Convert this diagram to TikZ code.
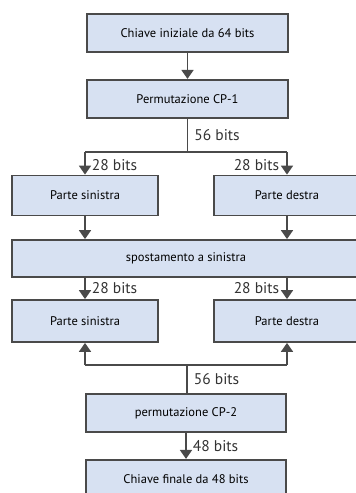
\documentclass[tikz,border=0pt]{standalone}
\usepackage{fontspec}
\setmainfont{PT Sans}
\usepackage{xcolor}
\usetikzlibrary{positioning, arrows.meta}

\definecolor{boxblue}{HTML}{D7E1F2}
\definecolor{edge}{HTML}{4A4A4A}

\begin{document}
\begin{tikzpicture}[
    x=1pt, y=-1pt,
    box/.style={
        rectangle,
        draw=edge,
        fill=boxblue,
        line width=1.8pt,
        minimum height=38pt,
        align=center,
        inner sep=0pt,
        font=\fontsize{12.5}{14}\selectfont
    },
    widebox/.style={box, minimum width=201pt},
    halfbox/.style={box, minimum width=146pt, minimum height=40pt},
    arrow/.style={
        line width=1.8pt,
        draw=edge,
        -{Triangle[length=9pt, width=12pt]}
    },
    link/.style={line width=1.8pt, draw=edge},
    bits/.style={font=\fontsize{15.5}{17}\selectfont, inner sep=1pt, text=black!80}
]

\useasboundingbox (0,0) rectangle (356,493);

% Main flow

\node[widebox] (init) at (187.5,33) {Chiave iniziale da 64 bits};

\node[widebox, below=26pt of init] (cp1) {Permutazione CP-1};

\coordinate (split) at (187.5,152);

\node[halfbox] (left1) at (85,195.5) {Parte sinistra};
\node[halfbox] (right1) at (287,195.5) {Parte destra};

\node[box, minimum width=348pt, minimum height=37pt] (shift) at (186,258.5) {spostamento a sinistra};

\node[halfbox, minimum height=42pt] (left2) at (85,321) {Parte sinistra};
\node[halfbox, minimum height=42pt] (right2) at (287,321) {Parte destra};

\coordinate (merge) at (187,365);

\node[widebox, minimum width=200pt] (cp2) at (186,413) {permutazione CP-2};

\node[widebox, minimum width=200pt, below=26pt of cp2] (final) {Chiave finale da 48 bits};

% Arrows

\draw[arrow] (init)--(cp1);
\draw[link] (cp1.south)--node[bits, right=5pt]{56 bits} (split);
\draw[link] (split -| left1)--(split -| right1);
\draw[arrow] (split -| left1)--node[bits, right=5pt, yshift=-2pt]{28 bits} (left1);
\draw[arrow] (split -| right1)--node[bits, left=6pt, yshift=-2pt]{28 bits} (right1);

\draw[arrow] (left1)--(left1 |- shift.north);
\draw[arrow] (right1)--(right1 |- shift.north);

\draw[arrow] (left2 |- shift.south)--node[bits, right=5pt]{28 bits} (left2);
\draw[arrow] (right2 |- shift.south)--node[bits, left=6pt]{28 bits} (right2);

\draw[link] (cp2.north -| merge)--node[bits, right=5pt]{56 bits} (merge);
\draw[link] (merge -| left2)--(merge -| right2);
\draw[arrow] (merge -| left2)--(left2);
\draw[arrow] (merge -| right2)--(right2);

\draw[arrow] (cp2)--node[bits, right=5pt]{48 bits} (final);

\end{tikzpicture}
\end{document}
